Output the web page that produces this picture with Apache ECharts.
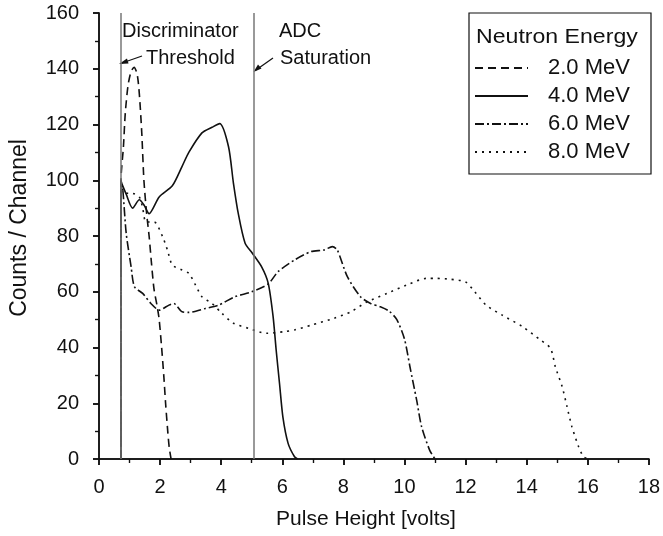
<!DOCTYPE html>
<html>
<head>
<meta charset="utf-8">
<script src="https://cdn.jsdelivr.net/npm/echarts@6/dist/echarts.min.js"></script>
<style>
  html, body { margin: 0; padding: 0; background: #fff; }
  #chart { width: 663px; height: 536px; }
</style>
</head>
<body>
<div id="chart"></div>
<script>
// pulse height spectra, [volts, counts]
var mev2 = [[0.72,0],[0.72,100],[0.8,112],[0.86,124],[0.95,134],[1.05,139],[1.15,140.5],[1.25,138],[1.32,131],[1.4,117],
  [1.47,100],[1.56,88],[1.64,80],[1.72,70],[1.8,61],[1.9,55],[1.97,50],[2.05,40],[2.12,30],[2.18,20],[2.25,10],
  [2.3,4],[2.36,0]];
var mev4 = [[0.72,0],[0.72,99.5],[0.89,95],[1.1,90],[1.32,93],[1.48,91],[1.64,88],[1.97,94],[2.4,98],[2.72,105],
  [2.94,110],[3.37,117],[3.7,119],[3.95,120.3],[4.24,112],[4.4,99],[4.56,88],[4.78,77.5],[5.02,73.8],[5.32,69],
  [5.54,63],[5.7,51],[5.8,39],[5.91,27],[6.02,15],[6.19,5.6],[6.4,0.8],[6.5,0]];
var mev6 = [[0.72,0],[0.72,100],[0.78,96.5],[0.89,81],[1.05,69],[1.16,61.8],[1.43,59.4],[1.7,55.8],[1.97,53.4],[2.29,55.2],
  [2.45,55.8],[2.72,52.8],[2.94,52.6],[3.48,54],[3.91,55.2],[4.45,58.2],[5,60],[5.54,62.8],[5.86,67.2],[6.4,71.4],
  [6.94,74.4],[7.37,75],[7.64,76.2],[7.8,75],[8.13,65.4],[8.56,58.2],[8.89,55.8],[9.21,54.6],[9.5,53],[9.75,50],
  [10.0,43],[10.18,33],[10.4,21],[10.56,11.6],[10.83,3],[11,0]];
var mev8 = [[0.72,0],[0.72,100],[0.83,95.4],[1.1,95.3],[1.32,94],[1.43,90],[1.54,85],[1.81,85],[2.08,79.8],[2.24,75],
  [2.4,69.6],[2.72,67.8],[2.94,66.6],[3.16,62.4],[3.37,58.2],[3.7,55.8],[4.02,52.3],[4.4,48.7],[4.89,46.9],[5.48,45.1],
  [6.08,45.7],[6.4,46.3],[6.94,48],[7.7,50.5],[8.24,52.8],[8.78,56.4],[9.43,59.4],[10.07,62.4],[10.73,64.8],[11.05,64.8],
  [11.5,64.5],[12,63.5],[12.3,60],[12.67,55.2],[13.2,51.6],[13.86,47.5],[14.45,42.7],[14.78,39.7],[14.94,33],[15.16,26],
  [15.32,18.8],[15.48,11.6],[15.7,4.4],[15.86,0.8],[16,0]];
var seriesNames = ['2.0 MeV', '4.0 MeV', '6.0 MeV', '8.0 MeV'];
var discriminatorX = 0.71;
var saturationX = 5.05;

var font = 'Liberation Sans, Arial, Helvetica, sans-serif';
var ink = '#111';

function curve(name, data, dash) {
  return {
    name: name,
    type: 'line',
    data: data,
    smooth: 0.25,
    showSymbol: false,
    symbol: 'none',
    lineStyle: { color: ink, width: 1.6, type: dash },
    itemStyle: { color: ink },
    z: 3
  };
}

var chart = echarts.init(document.getElementById('chart'));
var option = {
  backgroundColor: '#fff',
  animation: false,
  grid: { left: 96, right: 12, top: 13, bottom: 77 },
  xAxis: [{
    type: 'value', min: 0, max: 18, interval: 2,
    name: 'Pulse Height [volts]', nameLocation: 'middle', nameGap: 50,
    nameTextStyle: { fontFamily: font, fontSize: 21, color: ink, padding: [0, 16, 0, 0] },
    axisLine: { lineStyle: { color: ink, width: 1.5 } },
    axisTick: { length: 6, lineStyle: { color: ink, width: 1.5 } },
    minorTick: { show: true, splitNumber: 2, length: 4, lineStyle: { color: ink, width: 1.2 } },
    axisLabel: { fontFamily: font, fontSize: 20, color: ink, margin: 18 },
    splitLine: { show: false }
  }, {
    type: 'value', min: 0, max: 18, interval: 2, position: 'top',
    axisLine: { lineStyle: { color: ink, width: 1.5 } },
    axisTick: { inside: true, length: 6, lineStyle: { color: ink, width: 1.5 } },
    minorTick: { show: true, splitNumber: 2, length: 4, lineStyle: { color: ink, width: 1.2 } },
    axisLabel: { show: false },
    splitLine: { show: false }
  }],
  yAxis: [{
    type: 'value', min: 0, max: 160, interval: 20,
    name: 'Counts / Channel', nameLocation: 'middle', nameGap: 68,
    nameTextStyle: { fontFamily: font, fontSize: 23, color: ink, padding: [0, 0, 0, 16] },
    axisLine: { show: true, lineStyle: { color: ink, width: 1.5 } },
    axisTick: { show: true, length: 6, lineStyle: { color: ink, width: 1.5 } },
    minorTick: { show: true, splitNumber: 2, length: 4, lineStyle: { color: ink, width: 1.2 } },
    axisLabel: { fontFamily: font, fontSize: 20, color: ink, margin: 20 },
    splitLine: { show: false }
  }, {
    type: 'value', min: 0, max: 160, interval: 20, position: 'right',
    axisLine: { show: true, lineStyle: { color: ink, width: 1.5 } },
    axisTick: { show: true, inside: true, length: 6, lineStyle: { color: ink, width: 1.5 } },
    minorTick: { show: true, splitNumber: 2, length: 4, lineStyle: { color: ink, width: 1.2 } },
    axisLabel: { show: false },
    splitLine: { show: false }
  }],
  legend: {
    data: seriesNames,
    orient: 'vertical',
    left: 469, top: 52,
    itemWidth: 53, itemHeight: 14, itemGap: 6,
    itemStyle: { opacity: 0 },
    textStyle: { fontFamily: font, fontSize: 22, color: ink, lineHeight: 22, padding: [0, 0, 0, 15] }
  },
  graphic: [
    { type: 'rect', shape: { x: 469, y: 13, width: 182, height: 161 },
      style: { fill: '#fff', stroke: ink, lineWidth: 1.2 }, z: 1 },
    { type: 'text', x: 476, y: 27, scaleX: 1.1, z: 5,
      style: { text: 'Neutron Energy', font: '21px ' + font, fill: ink } },
    { type: 'text', left: 122, top: 21, z: 5,
      style: { text: 'Discriminator', font: '20px ' + font, fill: ink } },
    { type: 'text', left: 146, top: 48, z: 5,
      style: { text: 'Threshold', font: '20px ' + font, fill: ink } },
    { type: 'text', left: 279, top: 21, z: 5,
      style: { text: 'ADC', font: '20px ' + font, fill: ink } },
    { type: 'text', left: 280, top: 48, z: 5,
      style: { text: 'Saturation', font: '20px ' + font, fill: ink } },
    { type: 'line', shape: { x1: 142, y1: 56, x2: 122, y2: 63 }, style: { stroke: ink, lineWidth: 1.2 }, z: 5 },
    { type: 'polygon', shape: { points: [[119, 64], [127, 58.5], [128.5, 63.5]] }, style: { fill: ink }, z: 5 },
    { type: 'line', shape: { x1: 273, y1: 58, x2: 256, y2: 70 }, style: { stroke: ink, lineWidth: 1.2 }, z: 5 },
    { type: 'polygon', shape: { points: [[253.5, 72], [258, 64.5], [261.5, 68.5]] }, style: { fill: ink }, z: 5 }
  ],
  series: [
    curve(seriesNames[0], mev2, [8, 5]),
    curve(seriesNames[1], mev4, 'solid'),
    curve(seriesNames[2], mev6, [9, 3, 2, 3]),
    curve(seriesNames[3], mev8, [2, 5]),
    {
      name: 'markers', type: 'line', data: [], silent: true,
      markLine: {
        symbol: 'none', silent: true, label: { show: false },
        lineStyle: { color: '#777', width: 1.5, type: 'solid' },
        data: [{ xAxis: discriminatorX }, { xAxis: saturationX }]
      },
      z: 2
    }
  ]
};
chart.setOption(option);
</script>
</body>
</html>
